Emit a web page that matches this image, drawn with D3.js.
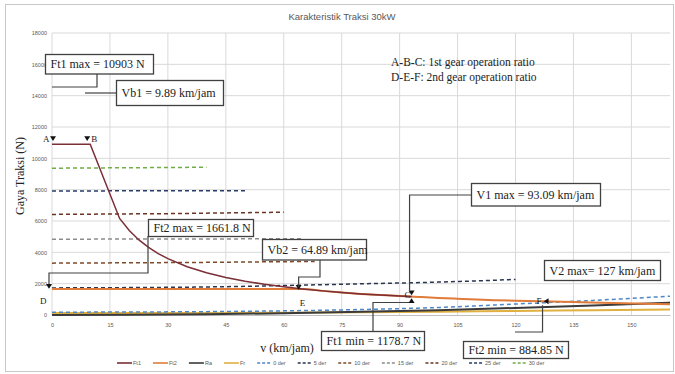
<!DOCTYPE html>
<html><head><meta charset="utf-8">
<script src="https://cdn.jsdelivr.net/npm/d3@7"></script>
<style>body{margin:0;background:#fff}svg{display:block}</style>
</head><body><svg id="c" width="675" height="374"></svg>
<script>
// ---------------- data ----------------
const chartTitle = "Karakteristik Traksi 30kW";
const xTicks = [0, 15, 30, 45, 60, 75, 90, 105, 120, 135, 150];
const yTicks = [0, 2000, 4000, 6000, 8000, 10000, 12000, 14000, 16000, 18000];

const vFt1 = [0, 9.89, 17.5, 20, 22.5, 25, 27.5, 30, 35, 40, 45, 50, 55, 60, 64.89, 70, 75, 80, 85, 90, 93.09];
const Ft1  = [10903, 10903, 6162, 5392, 4792, 4313, 3921, 3594, 3081, 2696, 2396, 2157, 1961, 1797, 1662, 1540, 1438, 1348, 1275, 1215, 1178.7];

const vFt2 = [0, 64.89, 70, 75, 80, 85, 90, 95, 100, 105, 110, 115, 120, 127, 135, 145, 160];
const Ft2  = [1661.8, 1661.8, 1540, 1438, 1348, 1275, 1215, 1150, 1090, 1035, 985, 945, 915, 884.85, 830, 765, 690];

const vRes = [0, 20, 40, 60, 80, 100, 120, 140, 160];
const Ra   = [0, 12, 50, 110, 200, 310, 450, 610, 790];
const Fr   = [120, 125, 135, 150, 175, 210, 260, 300, 350];
const der0 = [180, 190, 215, 265, 350, 480, 700, 930, 1200];

const v5  = [0, 20, 40, 60, 80, 100, 120];
const der5 = [1730, 1750, 1790, 1880, 1990, 2100, 2270];
const v10 = [0, 35, 68];   const der10 = [3310, 3350, 3420];
const v15 = [0, 35, 65];   const der15 = [4840, 4850, 4870];
const v20 = [0, 30, 60];   const der20 = [6420, 6470, 6560];
const v25 = [0, 25, 50];   const der25 = [7920, 7925, 7935];
const v30 = [0, 20, 40];   const der30 = [9370, 9400, 9430];

const seriesNames = ["Ft1", "Ft2", "Ra", "Fr", "0 der", "5 der", "10 der", "15 der", "20 der", "25 der", "30 der"];

// ---------------- layout ----------------
const svg = d3.select("#c");
const W = 675, H = 374;
const m = {l: 52, r: 5, t: 33, b: 59};
const x = d3.scaleLinear().domain([0, 160]).range([m.l, W - m.r]);
const y = d3.scaleLinear().domain([0, 18000]).range([H - m.b, m.t]);

const serif = "'Liberation Serif','Times New Roman',serif";
const sans = "'Liberation Sans',Arial,sans-serif";

svg.append("rect").attr("x", 0).attr("y", 0).attr("width", W).attr("height", H).attr("fill", "#fff");
svg.append("rect").attr("x", 5.5).attr("y", 4.5).attr("width", 668).attr("height", 367)
  .attr("fill", "none").attr("stroke", "#c8c8c8").attr("stroke-width", 1);

// title
svg.append("text").attr("x", 342).attr("y", 20).attr("text-anchor", "middle")
  .attr("font-family", sans).attr("font-size", 9.5).attr("fill", "#595959").text(chartTitle);

// gridlines
const g = svg.append("g");
g.selectAll(".hg").data(yTicks.filter(d => d > 0)).join("line")
  .attr("x1", x(0)).attr("x2", x(160)).attr("y1", d => y(d)).attr("y2", d => y(d))
  .attr("stroke", "#d9d9d9").attr("stroke-width", 1);
g.selectAll(".vg").data(xTicks).join("line")
  .attr("y1", y(0)).attr("y2", y(18000)).attr("x1", d => x(d)).attr("x2", d => x(d))
  .attr("stroke", "#d9d9d9").attr("stroke-width", 1);

// axes
const xAxis = d3.axisBottom(x).tickValues(xTicks).tickSize(0).tickPadding(8);
const yAxis = d3.axisLeft(y).tickValues(yTicks).tickSize(0).tickPadding(5).tickFormat(d3.format("d"));
const gx = svg.append("g").attr("transform", `translate(0,${y(0)})`).call(xAxis);
const gy = svg.append("g").attr("transform", `translate(${x(0)},0)`).call(yAxis);
[gx, gy].forEach(a => {
  a.select(".domain").attr("stroke", "#bfbfbf");
  a.selectAll("text").attr("font-family", sans).attr("font-size", 5.5).attr("fill", "#595959");
});
gy.select(".domain").remove();

// axis titles
svg.append("text").attr("transform", `translate(24,${(y(0) + y(18000)) / 2 + 2}) rotate(-90)`)
  .attr("text-anchor", "middle").attr("font-family", serif).attr("font-size", 12).attr("fill", "#222")
  .text("Gaya Traksi (N)");
svg.append("text").attr("x", 287).attr("y", 352).attr("text-anchor", "middle")
  .attr("font-family", serif).attr("font-size", 12).attr("fill", "#222").text("v (km/jam)");

// series
const line = d3.line().x(d => x(d[0])).y(d => y(d[1]));
const smooth = d3.line().x(d => x(d[0])).y(d => y(d[1])).curve(d3.curveMonotoneX);
const zip = (a, b) => a.map((v, i) => [v, b[i]]);

const series = [
  {name: "30 der", d: zip(v30, der30), c: "#70ad47", dash: "4,3", w: 1.5, gen: line},
  {name: "25 der", d: zip(v25, der25), c: "#263c6a", dash: "4,3", w: 1.5, gen: line},
  {name: "20 der", d: zip(v20, der20), c: "#6b3424", dash: "4,3", w: 1.5, gen: line},
  {name: "15 der", d: zip(v15, der15), c: "#8c8c8c", dash: "4,3", w: 1.5, gen: line},
  {name: "10 der", d: zip(v10, der10), c: "#7f4a2a", dash: "4,3", w: 1.5, gen: line},
  {name: "5 der",  d: zip(v5, der5),   c: "#2a3550", dash: "4,3", w: 1.5, gen: smooth},
  {name: "Fr",     d: zip(vRes, Fr),   c: "#e0b040", dash: null, w: 2, gen: smooth},
  {name: "Ra",     d: zip(vRes, Ra),   c: "#3a3a3a", dash: null, w: 2, gen: smooth},
  {name: "0 der",  d: zip(vRes, der0), c: "#4f86c6", dash: "4,3", w: 1.5, gen: smooth},
  {name: "Ft2",    d: zip(vFt2, Ft2),  c: "#e07b39", dash: null, w: 2, gen: smooth},
  {name: "Ft1",    d: zip(vFt1, Ft1),  c: "#7a2e36", dash: null, w: 1.5, gen: line},
];
svg.append("g").selectAll("path").data(series).join("path")
  .attr("d", s => s.gen(s.d)).attr("fill", "none").attr("stroke", s => s.c)
  .attr("stroke-width", s => s.w).attr("stroke-dasharray", s => s.dash);

// point labels & markers
const pt = svg.append("g").attr("font-family", serif).attr("font-size", 9).attr("fill", "#222");
function tri(px, py, dir) {
  const s = 3;
  let p;
  if (dir === "down") p = [[px - s, py - s], [px + s, py - s], [px, py + s * 0.6]];
  else if (dir === "up") p = [[px - s, py + s], [px + s, py + s], [px, py - s * 0.6]];
  else p = [[px + s, py - s], [px + s, py + s], [px - s * 0.6, py]];
  svg.append("path").attr("d", d3.line()(p) + "Z").attr("fill", "#111");
}
tri(x(0) + 1, y(10903) - 5, "down"); pt.append("text").attr("x", x(0) - 9).attr("y", y(10903) - 2).text("A");
tri(x(9.89) - 3, y(10903) - 5, "down"); pt.append("text").attr("x", x(9.89) + 1).attr("y", y(10903) - 2).text("B");
pt.append("text").attr("x", x(0) - 12).attr("y", y(1661.8) + 15).text("D");
tri(x(64.89) - 4, y(1661.8) - 1, "down");
pt.append("text").attr("x", x(64.89) - 3).attr("y", y(1661.8) + 17).text("E");
pt.append("text").attr("x", x(93.09) - 7).attr("y", y(1178.7) + 1).text("C");
tri(x(93.09), y(1178.7) - 3, "down");
pt.append("text").attr("x", x(127) - 6).attr("y", y(884.85) + 3).text("F");
tri(x(127) + 3, y(884.85), "left");

// annotations
const ann = svg.append("g");
function box(x0, y0, w, h, txt) {
  ann.append("rect").attr("x", x0).attr("y", y0).attr("width", w).attr("height", h)
    .attr("fill", "#fff").attr("stroke", "#404040").attr("stroke-width", 1.3);
  ann.append("text").attr("x", x0 + 5).attr("y", y0 + h / 2 + 4).attr("font-family", serif)
    .attr("font-size", 12).attr("fill", "#222").text(txt);
}
function lead(pts) {
  ann.append("path").attr("d", d3.line()(pts)).attr("fill", "none")
    .attr("stroke", "#404040").attr("stroke-width", 1.2);
}
// Ft1 max
lead([[97, 74], [97, 87], [x(0), 87]]);
box(45.5, 54.5, 108, 19.5, "Ft1 max = 10903 N");
// Vb1
lead([[85, 93], [116, 93]]);
box(116.5, 80.5, 107, 25, "Vb1 = 9.89 km/jam");
// gear notes
ann.append("text").attr("x", 391).attr("y", 66).attr("font-family", serif).attr("font-size", 11.5)
  .attr("fill", "#222").text("A-B-C: 1st gear operation ratio");
ann.append("text").attr("x", 391).attr("y", 81).attr("font-family", serif).attr("font-size", 11.5)
  .attr("fill", "#222").text("D-E-F: 2nd gear operation ratio");
// V1 max
lead([[472, 195], [x(93.09) - 2, 195], [x(93.09) - 2, y(1178.7) - 6]]);
box(471.5, 183.5, 129, 22.5, "V1 max = 93.09 km/jam");
// V2 max
box(544.5, 260.5, 116, 20, "V2 max= 127 km/jam");
// Ft2 max
lead([[148, 236], [148, 273], [49, 273], [49, y(1661.8) - 2]]);
tri(49, y(1661.8) - 2, "down");
box(148.5, 219.5, 105, 17, "Ft2 max = 1661.8 N");
// Vb2
lead([[320, 260], [320, 277], [x(64.89) - 4, 277], [x(64.89) - 4, y(1661.8) - 2]]);
box(262.5, 239.5, 104, 20.5, "Vb2 = 64.89 km/jam");
// Ft1 min
lead([[373, 332], [373, 302.5], [x(93.09), 302.5]]);
tri(x(93.09), 300, "up");
box(321.5, 331.5, 103, 19, "Ft1  min = 1178.7 N");
// Ft2 min
lead([[x(127), y(884.85) + 4], [x(127), 332], [515, 332]]);
box(463.5, 341.5, 105, 17, "Ft2 min = 884.85 N");

// legend
const legendItems = [
  {n: "Ft1", c: "#7a2e36", dash: null}, {n: "Ft2", c: "#e07b39", dash: null},
  {n: "Ra", c: "#3a3a3a", dash: null}, {n: "Fr", c: "#e0b040", dash: null},
  {n: "0 der", c: "#4f86c6", dash: "3,2"}, {n: "5 der", c: "#2a3550", dash: "3,2"},
  {n: "10 der", c: "#7f4a2a", dash: "3,2"}, {n: "15 der", c: "#8c8c8c", dash: "3,2"},
  {n: "20 der", c: "#6b3424", dash: "3,2"}, {n: "25 der", c: "#263c6a", dash: "3,2"},
  {n: "30 der", c: "#70ad47", dash: "3,2"}
];
const lg = svg.append("g");
let lx = 117;
legendItems.forEach((it, i) => {
  lg.append("line").attr("x1", lx).attr("x2", lx + 15).attr("y1", 363).attr("y2", 363)
    .attr("stroke", it.c).attr("stroke-width", 1.6).attr("stroke-dasharray", it.dash);
  const t = lg.append("text").attr("x", lx + 16).attr("y", 365).attr("font-family", sans)
    .attr("font-size", 5.5).attr("fill", "#595959").text(seriesNames[i]);
  lx += 16 + t.node().getComputedTextLength() + 12;
});
</script></body></html>
